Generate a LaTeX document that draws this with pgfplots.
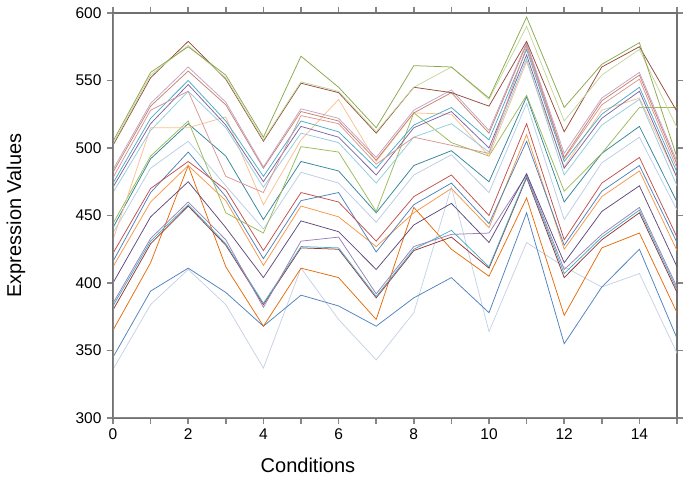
\documentclass[border=0pt]{standalone}
\usepackage{fontspec}
\setmainfont{Liberation Sans}
\usepackage{pgfplots}
\usepackage{pgfplotstable}
\pgfplotsset{compat=1.18}
\definecolor{cGone}{HTML}{8AA84E}
\definecolor{cLGr}{HTML}{C3D69B}
\definecolor{cBone}{HTML}{94493A}
\definecolor{cPone}{HTML}{C3A3C8}
\definecolor{cRone}{HTML}{C8826A}
\definecolor{cPD}{HTML}{D99694}
\definecolor{cTone}{HTML}{4BACC6}
\definecolor{cUone}{HTML}{8064A2}
\definecolor{cLBone}{HTML}{93CDDD}
\definecolor{cLO}{HTML}{FAC090}
\definecolor{cGtwo}{HTML}{9BBB59}
\definecolor{cTtwo}{HTML}{31859C}
\definecolor{cLGone}{HTML}{B9CDE5}
\definecolor{cRtwo}{HTML}{C0504D}
\definecolor{cBltwo}{HTML}{4F81BD}
\definecolor{cOtwo}{HTML}{F79646}
\definecolor{cUtwo}{HTML}{5F497A}
\definecolor{cUthree}{HTML}{9983B5}
\definecolor{cGCone}{HTML}{4BACC6}
\definecolor{cGCtwo}{HTML}{953735}
\definecolor{cOthree}{HTML}{E46C0A}
\definecolor{cBlthree}{HTML}{4F81BD}
\definecolor{cLGthree}{HTML}{C5D2E6}
\definecolor{axiscol}{HTML}{868686}
\definecolor{boxcol}{HTML}{707070}

\pgfplotstableread{
x  G1  LGr B1  P1  R1  PD  T1  U1  LB1 LO  G2  T2  LG1 R2  Bl2 O2  U2  U3  GC1 GC2 O3  Bl3 LG3
0  505 503 502 484 482 478 474 471 467 432 444 441 437 422 416 412 400 385 383 380 365 345 336
1  556 554 552 533 531 528 522 518 513 515 494 492 485 470 467 460 449 433 431 429 415 394 384
2  575 576 579 560 557 542 550 547 542 515 520 518 505 490 497 487 475 460 458 457 487 411 410
3  554 552 551 534 532 479 520 517 515 523 452 494 472 469 464 461 441 432 429 428 412 393 384
4  508 506 505 486 485 467 479 475 471 458 437 447 440 424 418 413 404 382 385 384 368 368 337
5  568 549 548 529 527 524 520 516 511 506 501 490 482 467 461 457 446 431 427 426 411 391 411
6  545 542 541 522 520 518 512 508 504 536 497 483 474 460 467 449 438 434 426 425 404 383 373
7  515 512 511 493 491 488 485 480 474 490 453 452 445 431 423 427 410 392 390 389 373 368 343
8  561 545 545 528 526 508 517 515 508 526 526 487 480 464 458 452 443 427 425 424 456 389 378
9  560 560 541 543 541 502 530 527 518 525 504 498 495 480 474 470 459 436 439 434 425 404 471
10 537 536 531 513 511 496 506 500 497 494 494 475 467 450 444 441 430 437 412 411 405 378 364
11 597 590 579 578 577 575 573 569 566 564 539 538 533 518 505 510 481 480 479 478 463 452 430
12 530 520 512 496 493 492 490 485 480 486 468 460 447 432 428 425 415 410 407 404 376 355 412
13 562 554 560 537 535 532 525 522 517 528 496 496 489 474 468 464 453 436 434 432 426 397 397
14 578 573 575 556 554 551 545 542 536 537 530 516 508 493 487 483 472 456 454 452 437 425 407
15 493 515 527 490 488 485 482 478 472 478 530 460 454 434 430 424 412 397 395 393 378 359 348
}\datatable

\begin{document}
\begin{tikzpicture}
\path[use as bounding box] (-113pt,-71pt) rectangle (572pt,418pt);
\begin{axis}[
  at={(0pt,0pt)}, anchor=south west,
  scale only axis, width=564pt, height=405pt,
  xmin=0, xmax=15, ymin=300, ymax=600,
  xtick={0,...,15},
  xticklabels={0,,2,,4,,6,,8,,10,,12,,14,},
  ytick={300,350,...,600},
  tick align=outside,
  major tick length=6pt,
  tick style={axiscol, line width=1.6pt},
  axis line style={boxcol, line width=1.2pt},
  /pgf/number format/assume math mode=true,
  ticklabel style={font=\fontsize{15.5}{18}\selectfont, text=black},
  yticklabel style={xshift=-2pt},
  xticklabel style={yshift=-1pt},
  xlabel={Conditions},
  ylabel={Expression Values},
  every axis x label/.style={at={(axis description cs:0.5,0)}, anchor=center, yshift=-47pt, xshift=-87pt, font=\fontsize{20}{24}\selectfont},
  every axis y label/.style={at={(axis description cs:0,0.5)}, anchor=center, rotate=90, yshift=97pt, font=\fontsize{20}{24}\selectfont},
  clip=true,
  every axis plot/.append style={line width=0.75pt, no markers},
]
\addplot[cLGthree] table[x=x,y=LG3]{\datatable};
\addplot[cBlthree] table[x=x,y=Bl3]{\datatable};
\addplot[cOthree] table[x=x,y=O3]{\datatable};
\addplot[cGCtwo] table[x=x,y=GC2]{\datatable};
\addplot[cGCone] table[x=x,y=GC1]{\datatable};
\addplot[cUthree] table[x=x,y=U3]{\datatable};
\addplot[cUtwo] table[x=x,y=U2]{\datatable};
\addplot[cOtwo] table[x=x,y=O2]{\datatable};
\addplot[cBltwo] table[x=x,y=Bl2]{\datatable};
\addplot[cRtwo] table[x=x,y=R2]{\datatable};
\addplot[cLGone] table[x=x,y=LG1]{\datatable};
\addplot[cTtwo] table[x=x,y=T2]{\datatable};
\addplot[cGtwo] table[x=x,y=G2]{\datatable};
\addplot[cLO] table[x=x,y=LO]{\datatable};
\addplot[cLBone] table[x=x,y=LB1]{\datatable};
\addplot[cUone] table[x=x,y=U1]{\datatable};
\addplot[cTone] table[x=x,y=T1]{\datatable};
\addplot[cPD] table[x=x,y=PD]{\datatable};
\addplot[cRone] table[x=x,y=R1]{\datatable};
\addplot[cPone] table[x=x,y=P1]{\datatable};
\addplot[cBone] table[x=x,y=B1]{\datatable};
\addplot[cLGr] table[x=x,y=LGr]{\datatable};
\addplot[cGone] table[x=x,y=G1]{\datatable};
\draw[axiscol, line width=2.4pt] (rel axis cs:0,1) -- (rel axis cs:0,0) -- (rel axis cs:1,0);
\end{axis}
\end{tikzpicture}
\end{document}
